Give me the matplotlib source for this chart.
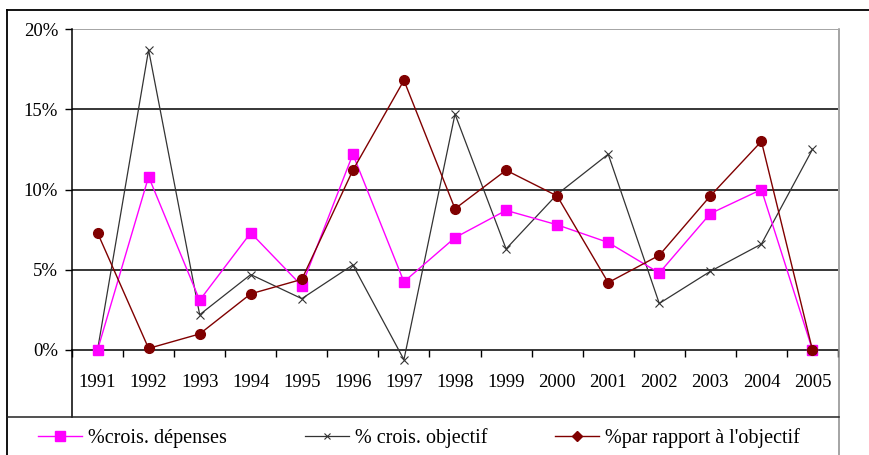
import matplotlib
matplotlib.use("Agg")
import matplotlib.pyplot as plt
from matplotlib.lines import Line2D
import numpy as np

plt.rcParams["font.family"] = ["Liberation Serif", "DejaVu Serif"]

years = ["1991", "1992", "1993", "1994", "1995", "1996", "1997", "1998",
         "1999", "2000", "2001", "2002", "2003", "2004", "2005"]
crois_depenses = [0.0, 10.8, 3.1, 7.3, 4.0, 12.2, 4.25, 7.0, 8.7, 7.8, 6.7, 4.8, 8.5, 10.0, 0.0]
crois_objectif = [0.0, 18.7, 2.2, 4.7, 3.2, 5.3, -0.6, 14.7, 6.3, 9.7, 12.2, 2.9, 4.9, 6.6, 12.5]
par_rapport = [7.3, 0.1, 1.0, 3.5, 4.4, 11.2, 16.8, 8.8, 11.2, 9.6, 4.2, 5.9, 9.6, 13.0, 0.0]
yticks = [0, 5, 10, 15, 20]

W, H = 869, 455
FS = 13.5
MAGENTA = "#ff00ff"
DARKRED = "#800000"
DARK = "#333333"
GRAY = "#8c8c8c"


def fx(px):
    return px / W


def fy(py):
    return 1 - py / H


fig = plt.figure(figsize=(W / 100, H / 100), dpi=100, facecolor="white")
ax = fig.add_axes([fx(72), fy(350), fx(838) - fx(72), fy(29) - fy(350)])

x = np.arange(len(years))
ax.plot(x, crois_depenses, color=MAGENTA, lw=1.0, marker="s", ms=7,
        mfc=MAGENTA, mec=MAGENTA, clip_on=False, zorder=4)
ax.plot(x, crois_objectif, color=DARK, lw=0.9, marker="x", ms=5.5,
        mew=0.8, clip_on=False, zorder=3)
ax.plot(x, par_rapport, color=DARKRED, lw=1.0, marker="o", ms=7,
        mfc=DARKRED, mec=DARKRED, clip_on=False, zorder=5)

ax.set_xlim(-0.5, len(years) - 0.5)
ax.set_ylim(0, 20)
ax.set_yticks(yticks, [f"{v}%" for v in yticks])
ax.set_xticks(x, years)
ax.set_xticks(np.arange(len(years) + 1) - 0.5, minor=True)
ax.tick_params(axis="x", which="major", length=0, pad=17, labelsize=FS)
ax.tick_params(axis="x", which="minor", length=5, width=1, direction="out")
ax.tick_params(axis="y", length=5, width=1, pad=5, labelsize=FS)

for v in yticks[1:-1]:
    ax.axhline(v, color="black", lw=1.1, zorder=1)
ax.axhline(20, color=GRAY, lw=1.1, zorder=1)
for side in ("top", "right"):
    ax.spines[side].set_visible(False)
ax.spines["left"].set_linewidth(1.1)
ax.spines["bottom"].set_linewidth(1.1)

# chart frame, plot-area edges and legend box
fig.add_artist(Line2D([fx(7), 1.0], [fy(10), fy(10)], color="black", lw=1.3))
fig.add_artist(Line2D([fx(7), fx(7)], [fy(10), 0.0], color="black", lw=1.3))
fig.add_artist(Line2D([fx(72), fx(72)], [fy(350), fy(417)], color="black", lw=1.1))
fig.add_artist(Line2D([fx(838.5), fx(838.5)], [fy(29), 0.0], color=GRAY, lw=1.1))
fig.add_artist(Line2D([fx(7), fx(839)], [fy(417), fy(417)], color="#222222", lw=1.1))

entries = [
    (Line2D([], [], color=MAGENTA, lw=1.0, marker="s", ms=6.5, mfc=MAGENTA, mec=MAGENTA),
     "%crois. dépenses", 38),
    (Line2D([], [], color=DARK, lw=0.9, marker="x", ms=4.5, mew=0.8),
     "% crois. objectif", 305),
    (Line2D([], [], color=DARKRED, lw=1.0, marker="D", ms=5, mfc=DARKRED, mec=DARKRED),
     "%par rapport à l'objectif", 555),
]
for handle, label, left in entries:
    fig.legend([handle], [label], loc="center left",
               bbox_to_anchor=(fx(left), fy(438)), frameon=False,
               fontsize=14.5, handlelength=2.2, handletextpad=0.3,
               borderpad=0, borderaxespad=0)

fig.savefig("out.png", dpi=100, facecolor="white")
